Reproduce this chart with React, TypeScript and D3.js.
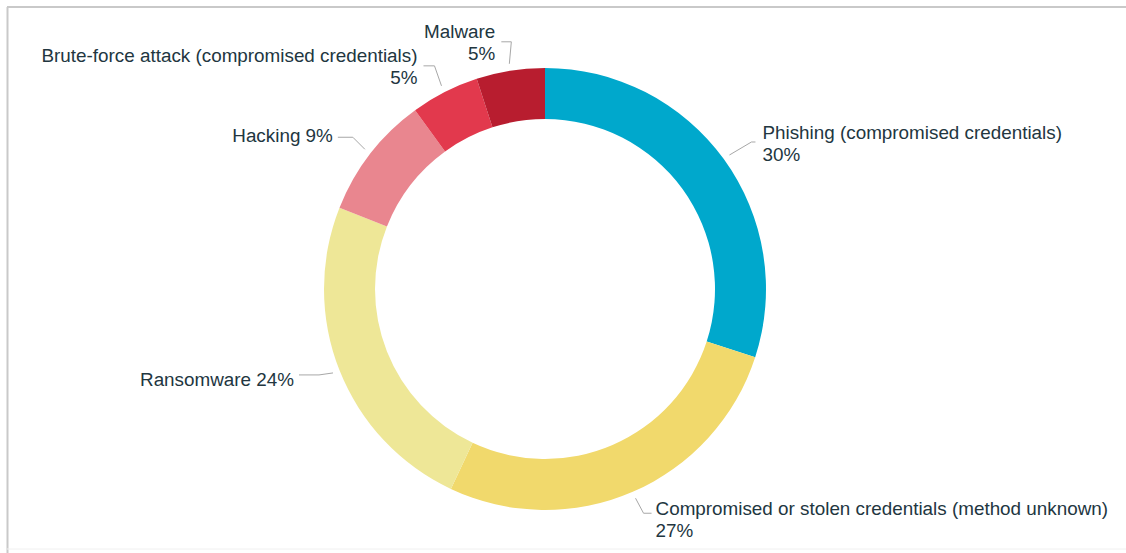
import React from "react";
import * as d3 from "d3";

const categories = [
  "Phishing (compromised credentials)",
  "Compromised or stolen credentials (method unknown)",
  "Ransomware",
  "Hacking",
  "Brute-force attack (compromised credentials)",
  "Malware",
];
const values = [30, 27, 24, 9, 5, 5];
const colors = ["#00a8cc", "#f1d96c", "#eee797", "#e9868f", "#e2394d", "#b81d2f"];

// label layout (styles, not data): elbow offset from arc anchor, horizontal run, text offset, lines
type LabelLayout = {
  ex: number; ey: number; hx: number; tx: number; ty: number;
  anchor: "start" | "end"; lines: string[];
};
const labelLayout: LabelLayout[] = [
  { ex: 22, ey: -13, hx: 4, tx: 7, ty: -3, anchor: "start", lines: ["Phishing (compromised credentials)", "30%"] },
  { ex: 8, ey: 15, hx: 8, tx: 4, ty: 2, anchor: "start", lines: ["Compromised or stolen credentials (method unknown)", "27%"] },
  { ex: -14, ey: 2, hx: -20, tx: -5, ty: 11, anchor: "end", lines: ["Ransomware 24%"] },
  { ex: -12, ey: -12, hx: -15, tx: -5, ty: 5, anchor: "end", lines: ["Hacking 9%"] },
  { ex: -7, ey: -20, hx: -11, tx: -6, ty: -4, anchor: "end", lines: ["Brute-force attack (compromised credentials)", "5%"] },
  { ex: 2, ey: -22, hx: -10, tx: -6, ty: -4, anchor: "end", lines: ["Malware", "5%"] },
];

const W = 1126;
const H = 553;
const cx = 545;
const cy = 289;
const outerR = 221;
const innerR = 170;
const fontSize = 18.85;
const lineH = 22;

export default function App() {
  const pie = d3.pie<number>().sort(null).value((d) => d);
  const arcs = pie(values);
  const arcGen = d3.arc<d3.PieArcDatum<number>>().innerRadius(innerR).outerRadius(outerR);

  return (
    <svg
      width={W}
      height={H}
      style={{ position: "absolute", left: 0, top: 0, background: "#fff" }}
      fontFamily="'Liberation Sans', Arial, Helvetica, sans-serif"
    >
      <rect x={0} y={0} width={W} height={H} fill="#fff" />
      {/* frame */}
      <line x1={7} y1={7} x2={W} y2={7} stroke="#c9c9c9" strokeWidth={2} />
      <line x1={7.5} y1={7} x2={7.5} y2={H} stroke="#c9c9c9" strokeWidth={2} />
      <line x1={7} y1={549} x2={W} y2={549} stroke="#f0f0f0" strokeWidth={1} />
      <g transform={`translate(${cx},${cy})`}>
        {arcs.map((a, i) => (
          <path key={categories[i]} d={arcGen(a) || ""} fill={colors[i]} />
        ))}
      </g>
      {arcs.map((a, i) => {
        const mid = (a.startAngle + a.endAngle) / 2;
        const r = outerR + 7;
        const sx = cx + r * Math.sin(mid);
        const sy = cy - r * Math.cos(mid);
        const L = labelLayout[i];
        const ex = sx + L.ex;
        const ey = sy + L.ey;
        const hx = ex + L.hx;
        const tx = hx + L.tx;
        const ty = ey + L.ty;
        return (
          <g key={"lab" + i}>
            <polyline
              points={`${sx},${sy} ${ex},${ey} ${hx},${ey}`}
              fill="none"
              stroke="#a7a7a7"
              strokeWidth={1}
            />
            <text x={tx} y={ty} fontSize={fontSize} fill="#22363f" textAnchor={L.anchor}>
              {L.lines.map((ln, j) => (
                <tspan key={j} x={tx} y={ty + j * lineH}>
                  {ln}
                </tspan>
              ))}
            </text>
          </g>
        );
      })}
    </svg>
  );
}
